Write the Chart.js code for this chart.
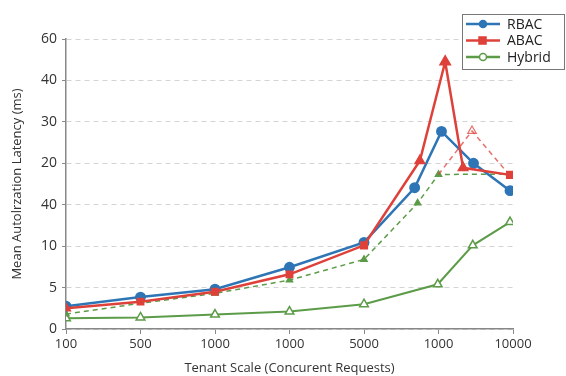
<!DOCTYPE html>
<html>
<head>
<meta charset="utf-8">
<script src="https://cdn.jsdelivr.net/npm/chart.js@4"></script>
<style>
  html, body { margin: 0; padding: 0; background: #fff; }
  #wrap { width: 566px; height: 376px; position: relative; }
</style>
</head>
<body>
<div id="wrap"><canvas id="chart"></canvas></div>
<script>
// axis labels (the y labels are evenly spaced, as printed)
var xLabels = ['100', '500', '1000', '1000', '5000', '1000', '10000'];
var yLabels = ['0', '5', '10', '40', '20', '30', '40', '60'];

// series, x and y in axis positions
var rbacX = [0, 1, 2, 3, 4, 4.68, 5.04, 5.47, 5.96];
var rbacY = [0.55, 0.77, 0.96, 1.49, 2.09, 3.41, 4.77, 4.0, 3.34];

var abacX = [0, 1, 2, 3, 4, 4.75, 5.09, 5.33, 5.96];
var abacY = [0.5, 0.66, 0.9, 1.32, 2.02, 4.06, 6.45, 3.89, 3.72];

var abacDashX = [5.0, 5.45, 5.96];
var abacDashY = [3.73, 4.78, 3.7];

var hybridX = [0, 1, 2, 3, 4, 4.99, 5.46, 5.96];
var hybridY = [0.26, 0.28, 0.35, 0.42, 0.6, 1.08, 2.02, 2.58];

var hybridDashX = [0, 1, 2, 3, 4, 4.72, 5.0, 5.96];
var hybridDashY = [0.36, 0.62, 0.86, 1.18, 1.68, 3.04, 3.73, 3.74];

var BLUE = 'rgb(46,117,182)';
var RED = 'rgb(222,64,58)';
var GREEN = 'rgb(92,155,72)';

function pts(xs, ys) {
  return xs.map(function(x, i) { return { x: x, y: ys[i] }; });
}

// legend drawn by hand so it can sit over the top right corner
var boxLegend = {
  id: 'boxLegend',
  afterDraw: function(chart) {
    var ctx = chart.ctx;
    var items = [
      { text: 'RBAC', color: BLUE, style: 'circle', fill: BLUE },
      { text: 'ABAC', color: RED, style: 'rect', fill: RED },
      { text: 'Hybrid', color: GREEN, style: 'circle', fill: '#fff' }
    ];
    ctx.save();
    ctx.fillStyle = '#fff';
    ctx.fillRect(462, 14, 103, 56);
    ctx.strokeStyle = '#777';
    ctx.lineWidth = 1;
    ctx.strokeRect(462.5, 14.5, 102, 55);
    ctx.font = '14px "Open Sans", sans-serif';
    ctx.textBaseline = 'middle';
    items.forEach(function(it, i) {
      var y = 24 + i * 16.5;
      ctx.strokeStyle = it.color;
      ctx.lineWidth = 2.5;
      ctx.beginPath();
      ctx.moveTo(466, y);
      ctx.lineTo(500, y);
      ctx.stroke();
      ctx.fillStyle = it.fill;
      ctx.lineWidth = 1.5;
      ctx.beginPath();
      if (it.style === 'rect') {
        ctx.rect(479, y - 3.5, 7, 7);
      } else {
        ctx.arc(483, y, 3.5, 0, Math.PI * 2);
      }
      ctx.fill();
      ctx.stroke();
      ctx.fillStyle = '#222';
      ctx.fillText(it.text, 507, y + 1);
    });
    ctx.restore();
  }
};

var ctx = document.getElementById('chart').getContext('2d');
var chart = new Chart(ctx, {
  type: 'line',
  data: {
    datasets: [
      {
        label: 'Hybrid',
        data: pts(hybridX, hybridY),
        borderColor: GREEN,
        backgroundColor: '#fff',
        borderWidth: 2,
        pointStyle: 'triangle',
        pointRadius: 5,
        pointBorderWidth: 1.5,
        order: 5
      },
      {
        label: 'HybridDash',
        data: pts(hybridDashX, hybridDashY),
        borderColor: GREEN,
        backgroundColor: GREEN,
        borderWidth: 1.5,
        borderDash: [5, 4],
        pointStyle: 'triangle',
        pointRadius: [3.5, 0, 3.5, 3.5, 3.5, 3.5, 3.5, 0],
        order: 4
      },
      {
        label: 'ABACDash',
        data: pts(abacDashX, abacDashY),
        borderColor: 'rgba(222,64,58,0.75)',
        backgroundColor: 'rgba(255,255,255,0)',
        borderWidth: 1.5,
        borderDash: [5, 4],
        pointStyle: 'triangle',
        pointRadius: [0, 5, 0],
        pointBorderWidth: 1.2,
        order: 3
      },
      {
        label: 'RBAC',
        data: pts(rbacX, rbacY),
        borderColor: BLUE,
        backgroundColor: BLUE,
        borderWidth: 2.5,
        pointStyle: 'circle',
        pointRadius: 4.2,
        order: 2
      },
      {
        label: 'ABAC',
        data: pts(abacX, abacY),
        borderColor: RED,
        backgroundColor: RED,
        borderWidth: 2.5,
        pointStyle: ['triangle', 'rect', 'rect', 'rect', 'rect', 'triangle', 'triangle', 'triangle', 'rect'],
        pointRadius: [4, 3.8, 3.8, 3.8, 4, 4.5, 5, 4.5, 4],
        order: 1
      }
    ]
  },
  options: {
    responsive: true,
    maintainAspectRatio: false,
    animation: false,
    layout: { padding: { top: 39, right: 53, left: 0, bottom: 0 } },
    plugins: {
      legend: { display: false },
      tooltip: { enabled: false }
    },
    elements: { line: { tension: 0 } },
    scales: {
      x: {
        type: 'linear',
        min: 0,
        max: 6,
        afterFit: function(s) { s.height = 47; },
        afterBuildTicks: function(s) {
          s.ticks = xLabels.map(function(l, i) { return { value: i }; });
        },
        ticks: {
          autoSkip: false,
          maxRotation: 0,
          padding: 2,
          color: '#333',
          font: { family: '"Open Sans", sans-serif', size: 13 },
          callback: function(v) { return xLabels[v]; }
        },
        grid: { drawOnChartArea: false, drawTicks: true, tickLength: 5, tickColor: '#888' },
        border: { display: true, color: '#888', width: 1.5 },
        title: {
          display: true,
          text: 'Tenant Scale (Concurent Requests)',
          color: '#333',
          font: { family: '"Open Sans", sans-serif', size: 13 },
          padding: { top: 0, bottom: 0 }
        }
      },
      y: {
        type: 'linear',
        min: 0,
        max: 7,
        afterFit: function(s) { s.width = 66; },
        afterBuildTicks: function(s) {
          s.ticks = yLabels.map(function(l, i) { return { value: i }; });
        },
        ticks: {
          padding: 5,
          color: '#333',
          font: { family: '"Open Sans", sans-serif', size: 14 },
          callback: function(v) { return yLabels[v]; }
        },
        grid: { color: '#d4d4d4', lineWidth: 1, drawTicks: true, tickLength: 4, tickColor: '#888' },
        border: { display: true, color: '#888', width: 1.5, dash: [5, 4] },
        title: {
          display: true,
          text: 'Mean Autolrzation Latency (ms)',
          color: '#333',
          font: { family: '"Open Sans", sans-serif', size: 13 },
          padding: { top: 9, bottom: 0 }
        }
      }
    }
  },
  plugins: [boxLegend]
});
</script>
</body>
</html>
